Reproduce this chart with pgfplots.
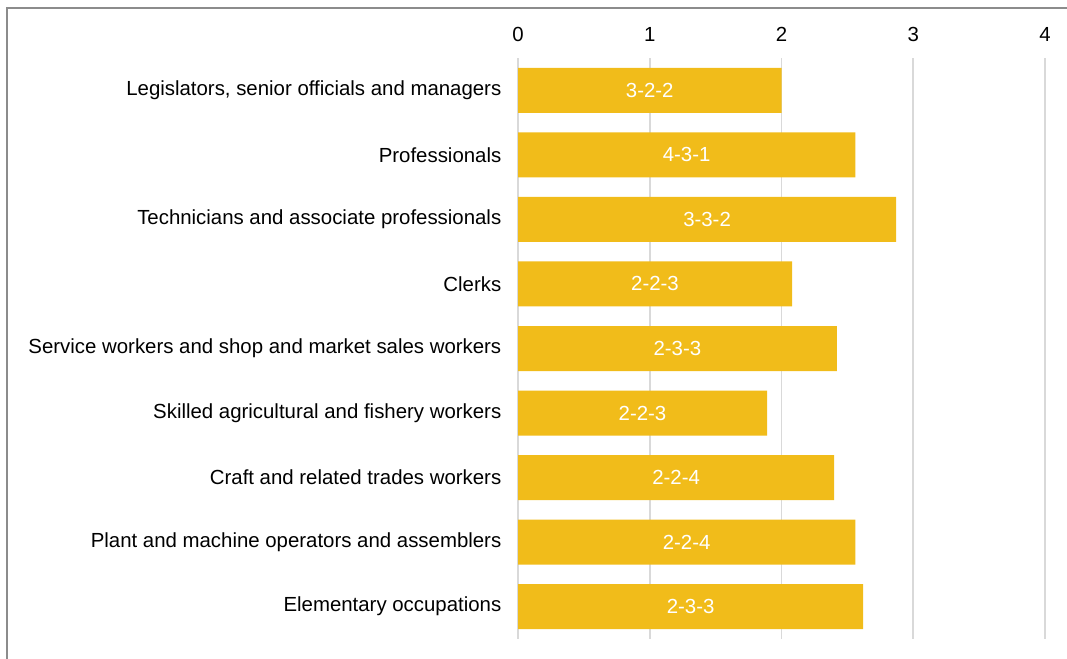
\documentclass[border=0pt]{standalone}
\usepackage{fontspec}
\setmainfont{Liberation Sans}
\usepackage{pgfplots}
\usepackage{pgfplotstable}
\pgfplotsset{compat=1.18}
\definecolor{bargold}{HTML}{F1BC1A}
\definecolor{gridgray}{HTML}{D9D9D9}
\definecolor{framegray}{HTML}{8C8C8C}
\pgfplotstableread{
y v lab
0 2.00 3-2-2
1 2.56 4-3-1
2 2.87 3-3-2
3 2.08 2-2-3
4 2.42 2-3-3
5 1.89 2-2-3
6 2.40 2-2-4
7 2.56 2-2-4
8 2.62 2-3-3
}\datatable
\begin{document}
\begin{tikzpicture}
\useasboundingbox (0,0) rectangle (800.25pt,494.25pt);
\draw[framegray, line width=1.5pt] (5.25pt,-5pt) -- (5.25pt,488.25pt) -- (806pt,488.25pt);
\begin{axis}[
  at={(388.5pt,15pt)}, anchor=south west,
  scale only axis, width=395.25pt, height=435.75pt,
  xmin=0, xmax=4, ymin=-0.5, ymax=8.5,
  y dir=reverse,
  xbar, bar width=33.75pt,
  axis line style={draw=none},
  xmajorgrids, grid style={gridgray, line width=1.2pt},
  xtick={0,1,2,3,4}, xticklabels={0,1,2,3,4},
  xticklabel pos=upper,
  ytick={0,...,8},
  yticklabels={{Legislators, senior officials and managers},Professionals,Technicians and associate professionals,Clerks,Service workers and shop and market sales workers,Skilled agricultural and fishery workers,Craft and related trades workers,Plant and machine operators and assemblers,Elementary occupations},
  major tick length=0pt,
  tick style={draw=none},
  ticklabel style={font=\fontsize{15.3}{18}\selectfont, text=black},
  yticklabel style={xshift=-9pt},
  xticklabel style={yshift=9pt},
  clip=false,
]
\addplot[fill=bargold, draw=none] table[x=v, y=y] {\datatable};
\addplot[only marks, mark=none, nodes near coords, point meta=explicit symbolic,
  every node near coord/.style={anchor=center, text=white, font=\fontsize{15.3}{18}\selectfont}]
  table[x expr=\thisrow{v}/2, y=y, meta=lab] {\datatable};
\end{axis}
\end{tikzpicture}
\end{document}
